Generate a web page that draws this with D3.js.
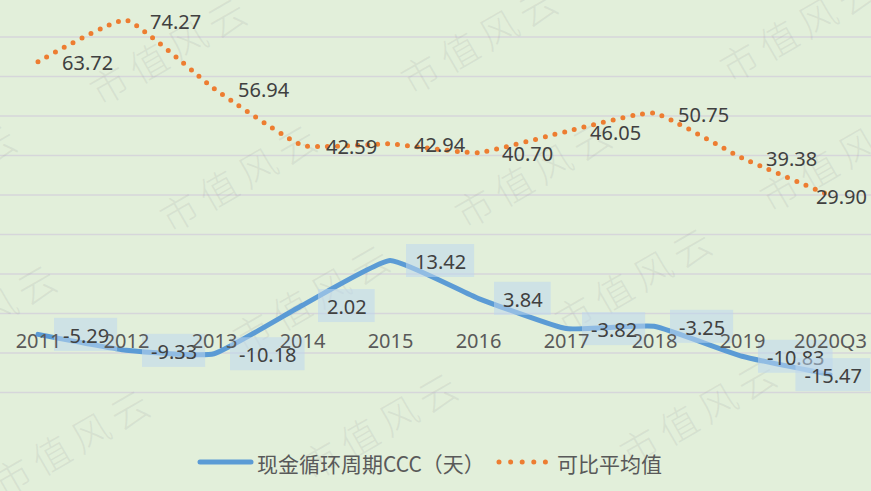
<!DOCTYPE html>
<html><head><meta charset="utf-8">
<script src="https://cdn.jsdelivr.net/npm/d3@7/dist/d3.min.js"></script>
<style>
html,body{margin:0;padding:0;background:#E2EFDA;}
svg{display:block;}
</style></head>
<body>
<svg id="chart" width="871" height="491"></svg>
<script>
const categories = ["2011","2012","2013","2014","2015","2016","2017","2018","2019","2020Q3"];
const cccValues = [-5.29,-9.33,-10.18,2.02,13.42,3.84,-3.82,-3.25,-10.83,-15.47];
const avgValues = [63.72,74.27,56.94,42.59,42.94,40.70,46.05,50.75,39.38,29.90];
const yTicks = [-20,-10,0,10,20,30,40,50,60,70,80];
const seriesNames = ["现金循环周期CCC（天）","可比平均值"];
const watermarkText = "市值风云";

const W = 871, H = 491;
const svg = d3.select("#chart");
svg.append("rect").attr("width",W).attr("height",H).attr("fill","#E2EFDA");

const x = d3.scalePoint().domain(categories).range([-6, 874]).padding(0.5);
const y = d3.scaleLinear().domain([-20, 80]).range([392.5, -2.5]);

// gridlines
svg.append("g").selectAll("line").data(yTicks).join("line")
  .attr("x1",0).attr("x2",W)
  .attr("y1",d=>y(d)).attr("y2",d=>y(d))
  .attr("stroke","#D6D6DA").attr("stroke-width",1.4);

// watermarks
const wmCenters = [[-140,60],[170,48],[481,37],[800,25],
                   [-60,175],[240,175],[535,171],[840,155],
                   [-20,315],[313,295],[635,278],
                   [73,440],[381,423],[700,410]];
svg.append("g").selectAll("text").data(wmCenters).join("text")
  .attr("transform",d=>`translate(${d[0]},${d[1]}) rotate(-30)`)
  .attr("text-anchor","middle").attr("dominant-baseline","central")
  .attr("font-family","'Noto Sans CJK SC'").attr("font-weight",300)
  .attr("font-size",38).attr("letter-spacing",7)
  .attr("fill","#9a9a9a").attr("fill-opacity",0.16)
  .text(watermarkText);

const line = d3.line().x((d,i)=>x(categories[i])).y(d=>y(d)).curve(d3.curveCardinal.tension(0.6));

// orange dotted
svg.append("path").datum(avgValues).attr("d",line)
  .attr("fill","none").attr("stroke","#ED7D31").attr("stroke-width",5)
  .attr("stroke-linecap","round").attr("stroke-dasharray","0 10");

// blue line
svg.append("path").datum(cccValues).attr("d",line)
  .attr("fill","none").attr("stroke","#5B9BD5").attr("stroke-width",5)
  .attr("stroke-linecap","round").attr("stroke-linejoin","round");

const labelFont = "'Noto Sans','Open Sans',sans-serif";

// orange labels
svg.append("g").selectAll("text").data(avgValues).join("text")
  .attr("font-family",labelFont).attr("font-size",20).attr("fill","#404040")
  .attr("dominant-baseline","central")
  .attr("y",d=>y(d)+1)
  .text(d=>d.toFixed(2))
  .each(function(d,i){
    const w = this.getComputedTextLength();
    let lx = x(categories[i]) + 24;
    if (lx + w > 867) lx = 867 - w;
    d3.select(this).attr("x",lx);
  });

// blue labels with boxes
const bl = svg.append("g");
cccValues.forEach((d,i)=>{
  const g = bl.append("g");
  const r = g.append("rect").attr("fill","#BDD7EE").attr("fill-opacity",0.55);
  const t = g.append("text").attr("font-family",labelFont).attr("font-size",20)
    .attr("fill","#404040").attr("dominant-baseline","central").text(d.toFixed(2));
  const w = t.node().getComputedTextLength();
  const bw = w + 17, bh = 33;
  let bx = x(categories[i]) + 16;
  if (bx + bw > 870) bx = 870 - bw;
  const cy = y(d);
  r.attr("x",bx).attr("y",cy-bh/2).attr("width",bw).attr("height",bh);
  t.attr("x",bx+9).attr("y",cy+1);
});

// category labels (axis at zero), drawn on top
const xAxis = d3.axisBottom(x).tickSize(0).tickPadding(0);
const gx = svg.append("g").attr("transform",`translate(0,${y(0)})`).call(xAxis);
gx.select(".domain").remove();
gx.selectAll("text")
  .attr("y", 34.5).attr("dy",null)
  .attr("font-family",labelFont)
  .attr("font-size",20).attr("fill","#595959");

// legend
const lg = svg.append("g");
lg.append("line").attr("x1",200).attr("x2",251).attr("y1",462).attr("y2",462)
  .attr("stroke","#5B9BD5").attr("stroke-width",5).attr("stroke-linecap","round");
lg.append("text").attr("x",257).attr("y",463).attr("dominant-baseline","central")
  .attr("font-family","'Noto Sans CJK SC'").attr("font-size",21).attr("fill","#595959")
  .text(seriesNames[0]);
lg.append("line").attr("x1",499).attr("x2",546).attr("y1",462).attr("y2",462)
  .attr("stroke","#ED7D31").attr("stroke-width",5).attr("stroke-linecap","round")
  .attr("stroke-dasharray","0 11.6");
lg.append("text").attr("x",557).attr("y",463).attr("dominant-baseline","central")
  .attr("font-family","'Noto Sans CJK SC'").attr("font-size",21).attr("fill","#595959")
  .text(seriesNames[1]);
</script>
</body></html>
